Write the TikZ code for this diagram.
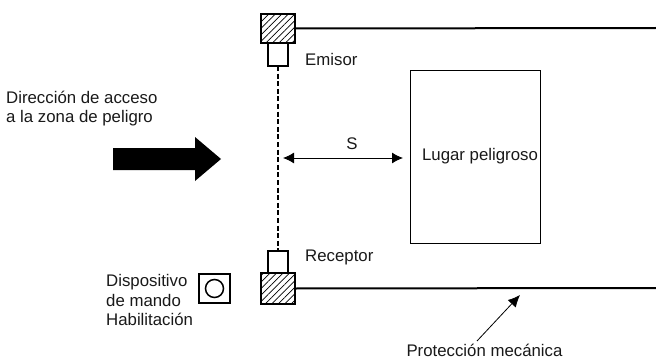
\documentclass[tikz,border=0pt]{standalone}
\usepackage{fontspec}
\setmainfont{Liberation Sans}
\usetikzlibrary{patterns,patterns.meta,arrows.meta,shapes.arrows}
\tikzset{
  x=1pt,y=-1pt,
  box/.style={draw=black,line width=2pt,fill=white,inner sep=0pt,outer sep=0pt},
  lbl/.style={font=\fontsize{16.8}{19.5}\selectfont,inner sep=0pt,text=black!90},
  wall/.style={line width=2pt},
  hatched/.style={draw=black,line width=2pt,pattern={Lines[angle=45,distance=4.6pt,line width=0.7pt]}}
}
\begin{document}
\begin{tikzpicture}
\useasboundingbox (0,0) rectangle (656,361);
\coordinate (tr) at (656,28);
\coordinate (br) at (656,288);
% housings
\node[box,hatched,minimum width=34pt,minimum height=29pt,anchor=center] (tophouse) at (278,28.5) {};
\node[box,minimum width=20pt,minimum height=23pt] (emit) at (278,54.5) {};
\node[box,minimum width=20pt,minimum height=22pt] (recv) at (278,262) {};
\node[box,hatched,minimum width=34pt,minimum height=31pt] (bothouse) at (278,288.5) {};
\draw[wall] (tophouse.east) -- (tr);
\draw[wall] (bothouse.east) -- (br);
\draw[line width=1.7pt,dash pattern=on 5pt off 2.6pt] (emit.south) -- (recv.north);
% button
\node[box,minimum width=31pt,minimum height=29pt] (btn) at (214.5,288.5) {};
\node[draw=black,line width=1.5pt,circle,minimum size=18pt,inner sep=0pt] (btnc) at (btn.center) {};
% danger zone
\node[draw=black,line width=1pt,minimum width=130pt,minimum height=172pt,inner sep=0pt] (zone) at (475,157) {};
\node[lbl] (zonet) at (480,156) {Lugar peligroso};
% S dimension
\coordinate (sl) at (283,158);
\coordinate (sr) at (403,158);
\draw[line width=0.9pt,{Latex[length=11pt,width=11pt]}-{Latex[length=11pt,width=11pt]}] (sl) -- (sr);
\node[lbl] (s) at (352,144) {S};
% big arrow
\fill[black] (113,148) -- (195,148) -- (195,137) -- (221,159) -- (195,181) -- (195,170) -- (113,170) -- cycle;
% labels
\node[lbl,anchor=west] (em) at (305,59) {Emisor};
\node[lbl,anchor=west] (re) at (305,257) {Receptor};
\node[lbl,align=left,anchor=west] (dir) at (6,108.5) {Dirección de acceso\\a la zona de peligro};
\node[lbl,align=left,anchor=west] (disp) at (106,300) {Dispositivo\\de mando\\Habilitación};
\node[lbl] (prot) at (484.5,350) {Protección mecánica};
\coordinate (pa) at (477,341);
\coordinate (pb) at (520,295);
\draw[line width=0.8pt,-{Latex[length=12pt,width=11pt]}] (pa) -- (pb);
\end{tikzpicture}
\end{document}
